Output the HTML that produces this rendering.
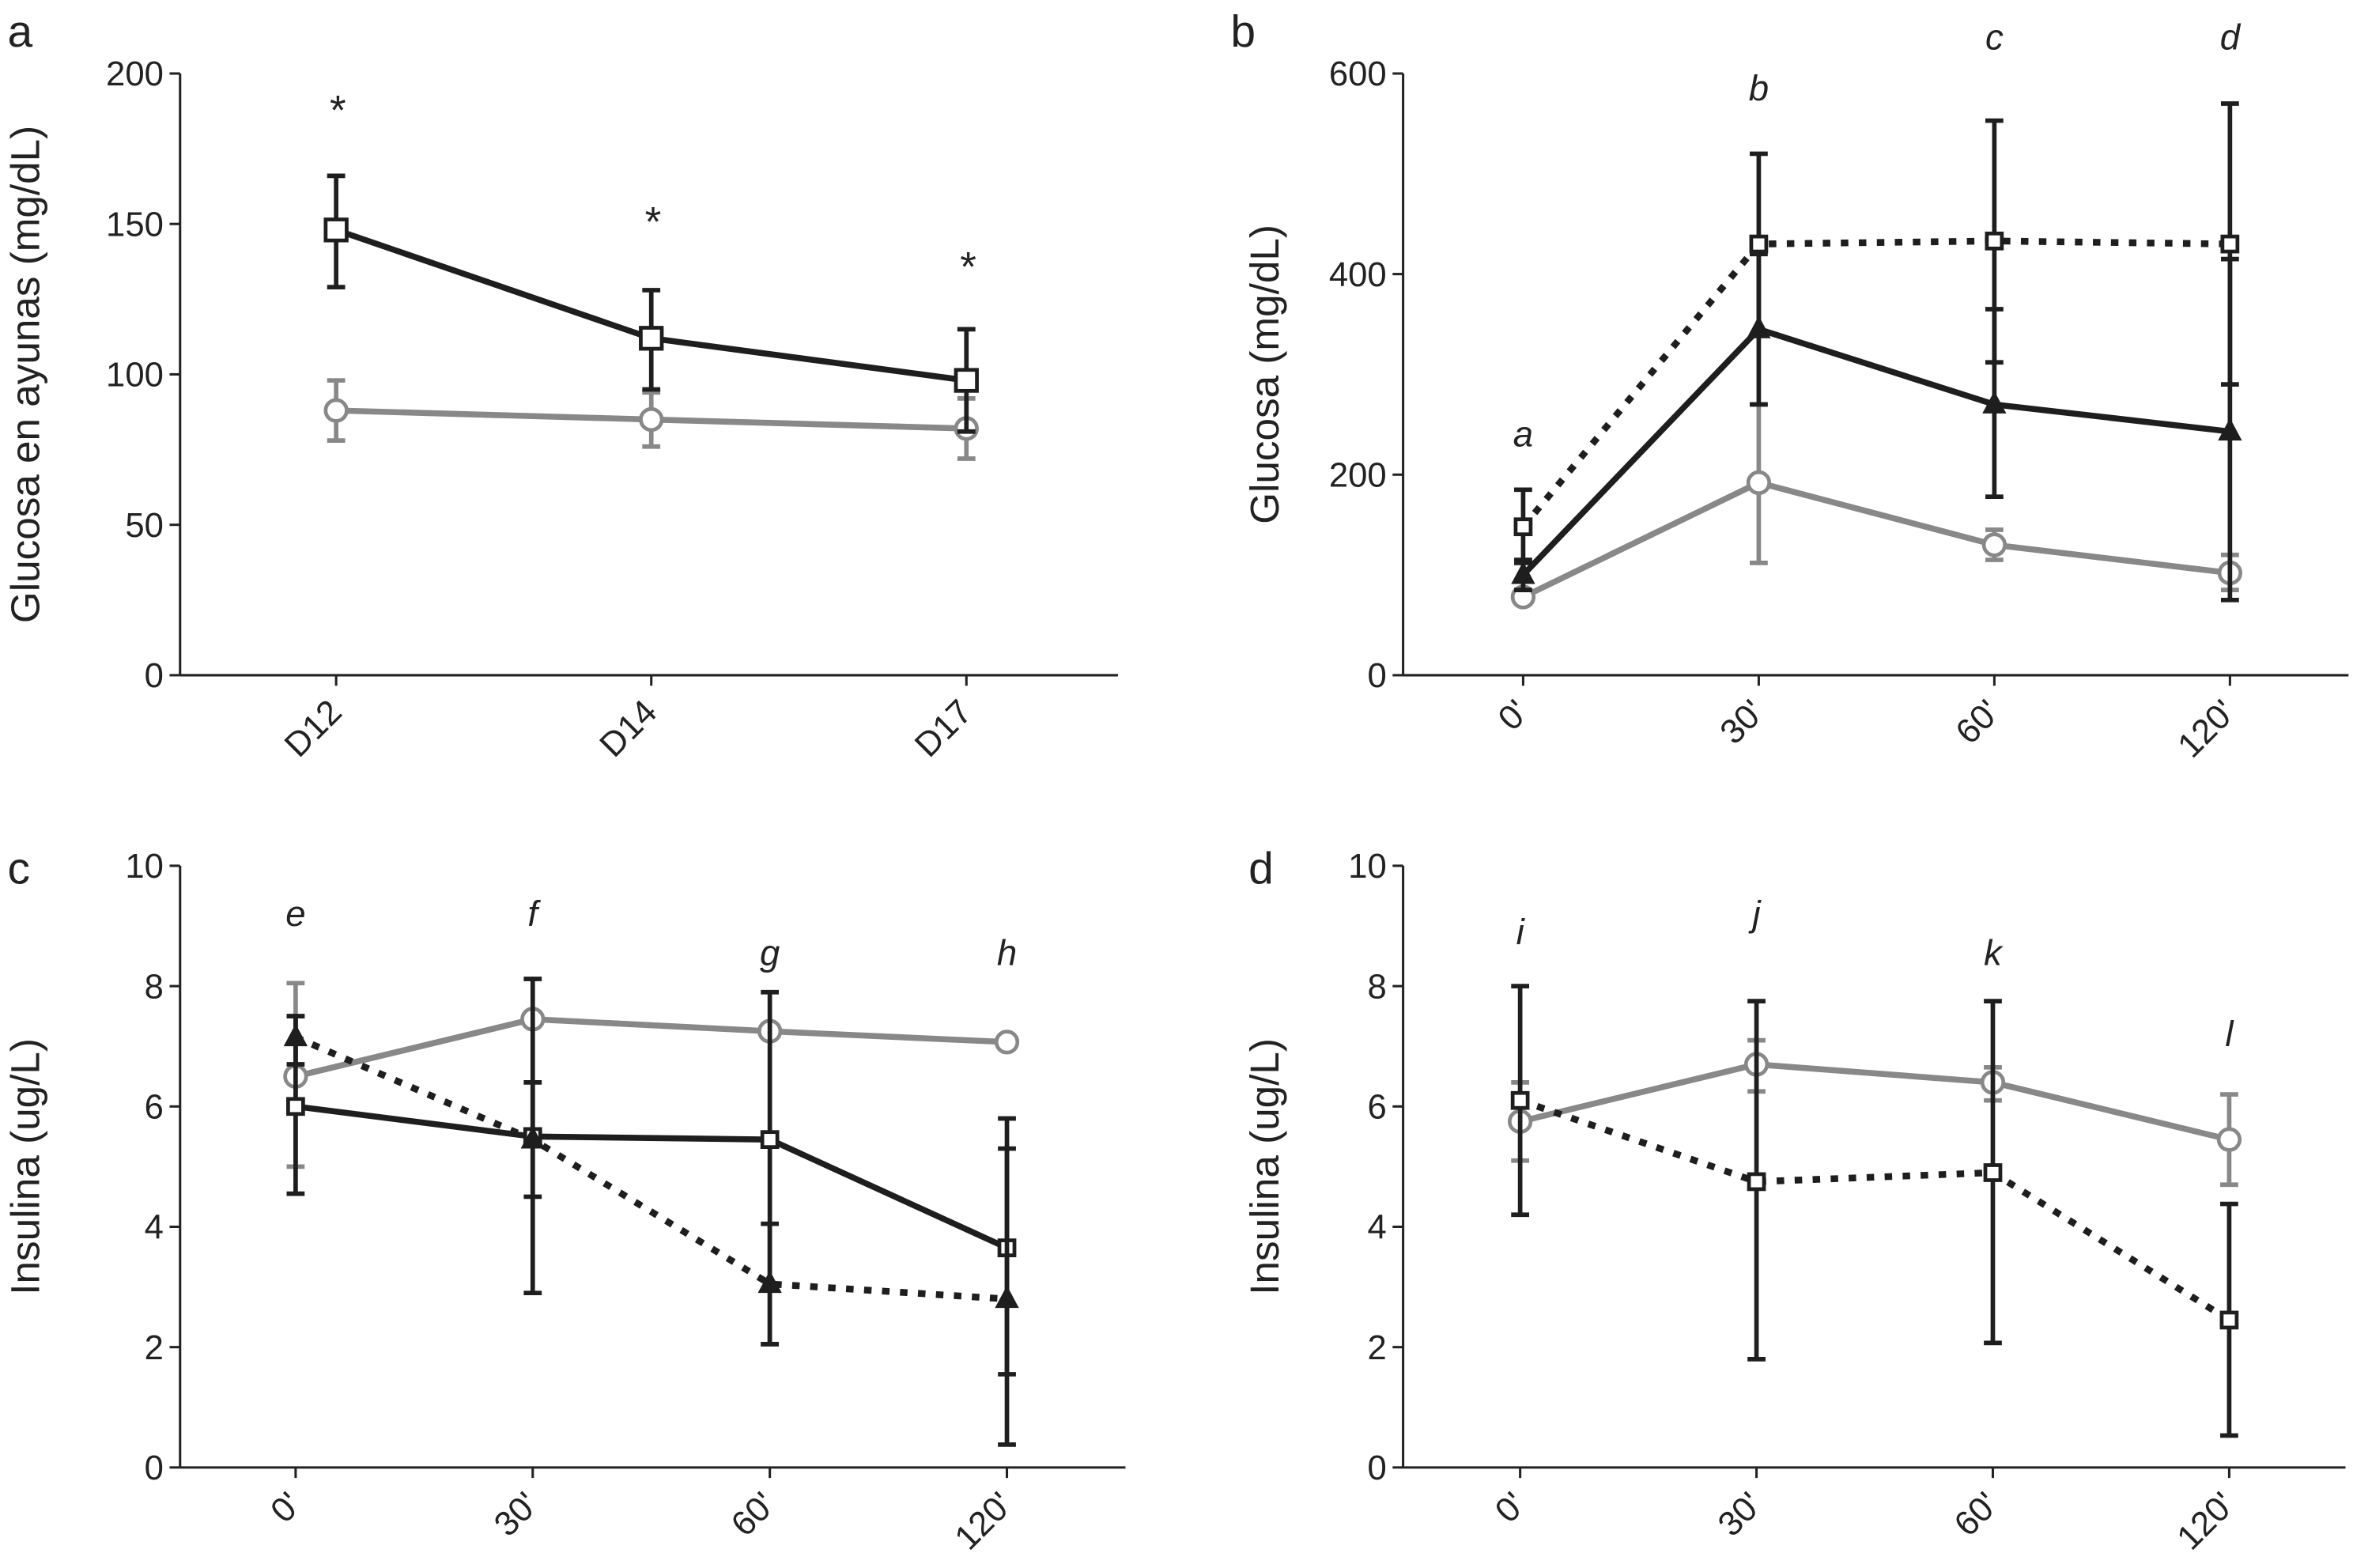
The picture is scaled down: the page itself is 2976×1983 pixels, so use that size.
<!DOCTYPE html>
<html><head><meta charset="utf-8"><style>
html,body{margin:0;padding:0;background:#fff;}
svg{display:block;font-family:"Liberation Sans",Arial,sans-serif;}
</style></head><body>
<svg id="fig" width="2976" height="1983" viewBox="0 0 1568 1045" preserveAspectRatio="none" xmlns="http://www.w3.org/2000/svg"></svg>
<script>
// ---- data ----
const catsA = ["D12","D14","D17"];
const aBlack = [148,112,98], aBlackLo=[129,95,81], aBlackHi=[166,128,115];
const aGray = [88,85,82], aGrayLo=[78,76,72], aGrayHi=[98,94,92];
const aMarks = ["*","*","*"], aMarkVals=[187,150,135];
const ticksA = [0,50,100,150,200];

const catsT = ["0'","30'","60'","120'"];
const bDot = [148,430,433,430], bDotLo=[112,340,312,290], bDotHi=[185,520,553,570];
const bTri = [100,345,270,243], bTriLo=[85,270,178,75], bTriHi=[115,420,365,415];
const bGray = [78,192,130,102], bGrayLo=[72,112,115,85], bGrayHi=[84,270,145,120];
const bMarks = ["a","b","c","d"], bMarkVals=[240,585,636,636];
const ticksB = [0,200,400,600];

const cGray = [6.5,7.45,7.25,7.07], cGrayLo=[5.0,7.45,7.25,7.07], cGrayHi=[8.05,7.45,7.25,7.07];
const cSq = [6.0,5.5,5.45,3.65], cSqLo=[4.55,2.9,2.05,1.55], cSqHi=[7.5,8.12,7.9,5.8];
const cTri = [7.15,5.45,3.05,2.8], cTriLo=[6.7,4.5,2.05,0.38], cTriHi=[7.5,6.4,4.05,5.3];
const cMarks = ["e","f","g","h"], cMarkVals=[9.2,9.2,8.55,8.55];
const ticksC = [0,2,4,6,8,10];

const dGray = [5.75,6.7,6.4,5.45], dGrayLo=[5.1,6.25,6.1,4.7], dGrayHi=[6.4,7.1,6.65,6.2];
const dSq = [6.1,4.75,4.9,2.45], dSqLo=[4.2,1.8,2.07,0.53], dSqHi=[8.0,7.75,7.75,4.38];
const dMarks = ["i","j","k","l"], dMarkVals=[8.9,9.2,8.55,7.2];
const ticksD = [0,2,4,6,8,10];

const svg = document.getElementById('fig');
const NS = "http://www.w3.org/2000/svg";
function mk(tag, attrs, parent){ const e=document.createElementNS(NS,tag); for(const k in attrs) e.setAttribute(k,attrs[k]); (parent||svg).appendChild(e); return e; }

function panel(cfg){
  const g = mk('g',{});
  
  
  const yS = v => cfg.y0 + (cfg.y1-cfg.y0)*(v-cfg.vmin)/(cfg.vmax-cfg.vmin);
  const xS = i => cfg.xs[0] + i*(cfg.xs[1]-cfg.xs[0]);
  const ya = mk('line',{x1:cfg.ax,y1:cfg.y1,x2:cfg.ax,y2:cfg.y0,stroke:'#222','stroke-width':1.6},g);
   
  const xa = mk('line',{x1:cfg.ax,y1:cfg.y0,x2:cfg.xend,y2:cfg.y0,stroke:'#222','stroke-width':1.6},g);
   
  cfg.ticks.forEach(t=>{
    const y=yS(t);
    mk('line',{x1:cfg.ax-7,y1:y,x2:cfg.ax,y2:y,stroke:'#222','stroke-width':1.6},g);
    const tx=mk('text',{x:cfg.ax-11,y:y+8,'text-anchor':'end','font-size':23,fill:'#222'},g);
    tx.textContent=t;
     
  });
  cfg.cats.forEach((c,i)=>{
    const x=xS(i);
    mk('line',{x1:x,y1:cfg.y0,x2:x,y2:cfg.y0+7,stroke:'#222','stroke-width':1.6},g);
    const tx=mk('text',{x:x+5,y:cfg.y0+26,'text-anchor':'end','font-size':23,fill:'#222',transform:`rotate(-45 ${x+5} ${cfg.y0+26})`},g);
    tx.textContent=c;
     
  });
  const yt=mk('text',{x:0,y:0,'text-anchor':'middle','font-size':27,fill:'#222',transform:`translate(${cfg.tx},${(cfg.y0+cfg.y1)/2}) rotate(-90)`},g);
  yt.textContent=cfg.title;
   
  const pl=mk('text',{x:cfg.lx,y:cfg.ly,'font-size':30,fill:'#222'},g);
  pl.textContent=cfg.letter;
   
  cfg.series.forEach(s=>{
    const sg=mk('g',{},g);
    
    
    s.vals.forEach((v,i)=>{
      const x=xS(i), lo=yS(s.lo[i]), hi=yS(s.hi[i]);
      if(Math.abs(lo-hi)>1){
        mk('line',{x1:x,y1:lo,x2:x,y2:hi,stroke:s.color,'stroke-width':3},sg);
        mk('line',{x1:x-6,y1:lo,x2:x+6,y2:lo,stroke:s.color,'stroke-width':3},sg);
        mk('line',{x1:x-6,y1:hi,x2:x+6,y2:hi,stroke:s.color,'stroke-width':3},sg);
      }
    });
    const pts=s.vals.map((v,i)=>xS(i)+','+yS(v)).join(' ');
    const ln=mk('polyline',{points:pts,fill:'none',stroke:s.color,'stroke-width':s.dash?4.5:4,'stroke-dasharray':s.dash?'5 7':'none'},sg);
     
    s.vals.forEach((v,i)=>{
      const x=xS(i), y=yS(v); let m;
      if(s.marker==='sq') m=mk('rect',{x:x-s.ms,y:y-s.ms,width:2*s.ms,height:2*s.ms,fill:'#fff',stroke:s.color,'stroke-width':2.5},sg);
      else if(s.marker==='ci') m=mk('circle',{cx:x,cy:y,r:7,fill:'#fff',stroke:s.color,'stroke-width':2.5},sg);
      else m=mk('polygon',{points:`${x},${y-9} ${x-8},${y+6} ${x+8},${y+6}`,fill:s.color},sg);
       
    });
  });
  cfg.marks.forEach((t,i)=>{
    const tx=mk('text',{x:xS(i),y:yS(cfg.markVals[i])+8,'text-anchor':'middle','font-size':t==='*'?28:24,'font-style':'italic',fill:'#222'},g);
    tx.textContent=t;
     
  });
}
const BLK='#1e1e1e', GRY='#888';
panel({name:'panel-a',letter:'a',lx:5,ly:31,title:'Glucosa en ayunas (mg/dL)',tx:26,ax:120,xend:745,y0:450,y1:49,vmin:0,vmax:200,ticks:ticksA,cats:catsA,xs:[224,434],
  series:[{name:'gray-series',vals:aGray,lo:aGrayLo,hi:aGrayHi,color:GRY,marker:'ci'},{name:'black-series',vals:aBlack,lo:aBlackLo,hi:aBlackHi,color:BLK,marker:'sq',ms:7}],
  marks:aMarks,markVals:aMarkVals});
panel({name:'panel-b',letter:'b',lx:820,ly:31,title:'Glucosa (mg/dL)',tx:852,ax:935,xend:1565,y0:450,y1:49,vmin:0,vmax:600,ticks:ticksB,cats:catsT,xs:[1015,1172],
  series:[{name:'gray-series',vals:bGray,lo:bGrayLo,hi:bGrayHi,color:GRY,marker:'ci'},{name:'triangle-series',vals:bTri,lo:bTriLo,hi:bTriHi,color:BLK,marker:'tri'},{name:'dotted-series',vals:bDot,lo:bDotLo,hi:bDotHi,color:BLK,marker:'sq',ms:5,dash:true}],
  marks:bMarks,markVals:bMarkVals});
panel({name:'panel-c',letter:'c',lx:5,ly:589,title:'Insulina (ug/L)',tx:26,ax:120,xend:750,y0:978,y1:577,vmin:0,vmax:10,ticks:ticksC,cats:catsT,xs:[197,355],
  series:[{name:'gray-series',vals:cGray,lo:cGrayLo,hi:cGrayHi,color:GRY,marker:'ci'},{name:'square-series',vals:cSq,lo:cSqLo,hi:cSqHi,color:BLK,marker:'sq',ms:5},{name:'dotted-triangle-series',vals:cTri,lo:cTriLo,hi:cTriHi,color:BLK,marker:'tri',dash:true}],
  marks:cMarks,markVals:cMarkVals});
panel({name:'panel-d',letter:'d',lx:832,ly:589,title:'Insulina (ug/L)',tx:852,ax:935,xend:1563,y0:978,y1:577,vmin:0,vmax:10,ticks:ticksD,cats:catsT,xs:[1013,1170.5],
  series:[{name:'gray-series',vals:dGray,lo:dGrayLo,hi:dGrayHi,color:GRY,marker:'ci'},{name:'dotted-series',vals:dSq,lo:dSqLo,hi:dSqHi,color:BLK,marker:'sq',ms:5,dash:true}],
  marks:dMarks,markVals:dMarkVals});
</script>
</body></html>
